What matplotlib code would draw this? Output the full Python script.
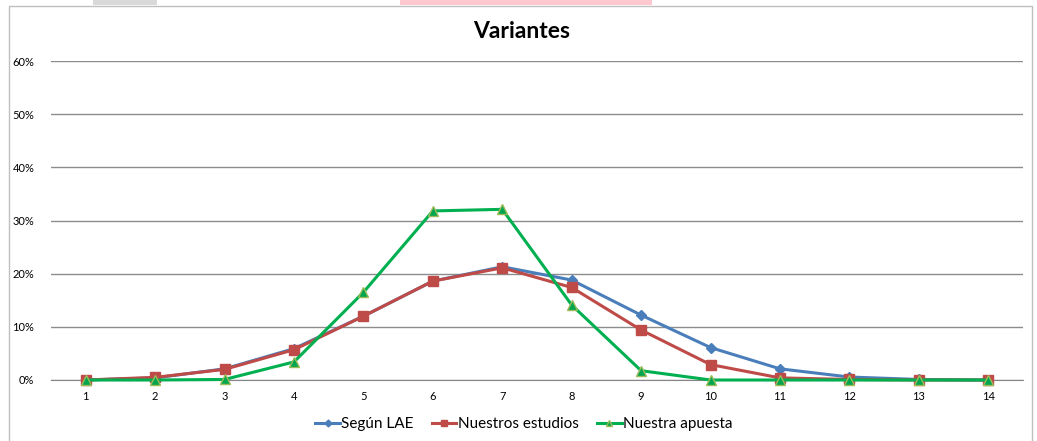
import matplotlib
matplotlib.use("Agg")
import matplotlib.pyplot as plt
from matplotlib.ticker import FuncFormatter
from matplotlib.patches import Rectangle

categories = list(range(1, 15))
segun_lae = [0.0, 0.4, 2.1, 5.9, 12.0, 18.6, 21.3, 18.8, 12.2, 6.1, 2.1, 0.56, 0.1, 0.0]
nuestros_estudios = [0.0, 0.5, 2.0, 5.7, 12.0, 18.6, 21.1, 17.4, 9.4, 2.9, 0.4, 0.1, 0.0, 0.0]
nuestra_apuesta = [0.0, 0.0, 0.1, 3.4, 16.5, 31.8, 32.1, 14.1, 1.75, 0.0, 0.0, 0.0, 0.0, 0.0]
yticks = [0, 10, 20, 30, 40, 50, 60]
title = "Variantes"
labels = ["Según LAE", "Nuestros estudios", "Nuestra apuesta"]

plt.rcParams['font.family'] = ['Lato', 'DejaVu Sans']

fig = plt.figure(figsize=(10.37, 4.41), dpi=100)
# spreadsheet remnants at the top
fig.patches.append(Rectangle((93/1037, 1-5/441), 64/1037, 5/441, transform=fig.transFigure,
                             facecolor="#d9d9d9", edgecolor="none"))
fig.patches.append(Rectangle((400/1037, 1-5/441), 252/1037, 5/441, transform=fig.transFigure,
                             facecolor="#ffc7ce", edgecolor="none"))
# chart border
fig.patches.append(Rectangle((9/1037, -0.01), 1023/1037, 1-6/441+0.01, transform=fig.transFigure,
                             facecolor="none", edgecolor="#bfbfbf", lw=1))

ax = fig.add_axes([51/1037, 61/441, 972/1037, 319/441])
x = categories
ax.plot(x, segun_lae, color="#4A7EBB", lw=2.2, marker="D", ms=5,
        mfc="#4A7EBB", mec="#4A7EBB", label=labels[0], zorder=3)
ax.plot(x, nuestros_estudios, color="#BE4B48", lw=2.2, marker="s", ms=7,
        mfc="#BE4B48", mec="#BE4B48", label=labels[1], zorder=4)
ax.plot(x, nuestra_apuesta, color="#00B050", lw=2.2, marker="^", ms=7,
        mfc="#00A550", mec="#9BBB59", mew=1, label=labels[2], zorder=5)

ax.set_xlim(0.5, 14.5)
ax.set_ylim(0, 60)
ax.set_yticks(yticks)
ax.yaxis.set_major_formatter(FuncFormatter(lambda v, p: f"{int(v)}%"))
ax.set_xticks(categories)
ax.set_xticklabels([str(c) for c in categories])
ax.tick_params(axis="both", length=0, labelsize=8, colors="#000000")
ax.tick_params(axis="y", pad=12)
ax.tick_params(axis="x", pad=8)
ax.grid(axis="y", color="#8c8c8c", lw=1)
ax.set_axisbelow(True)
for s in ["top", "right", "left"]:
    ax.spines[s].set_visible(False)
ax.spines["bottom"].set_color("#868686")
for ln in ax.lines:
    ln.set_clip_on(False)

fig.text(522/1037, 1-32/441, title, ha="center", va="center", fontsize=16.5, fontweight="bold")

leg = fig.legend(loc="center", bbox_to_anchor=(524/1037, 1-424/441), ncol=3, frameon=False,
                 fontsize=11, handlelength=1.6, handletextpad=0.1, columnspacing=1.2,
                 markerscale=0.7)

fig.savefig("out.png", dpi=100)
